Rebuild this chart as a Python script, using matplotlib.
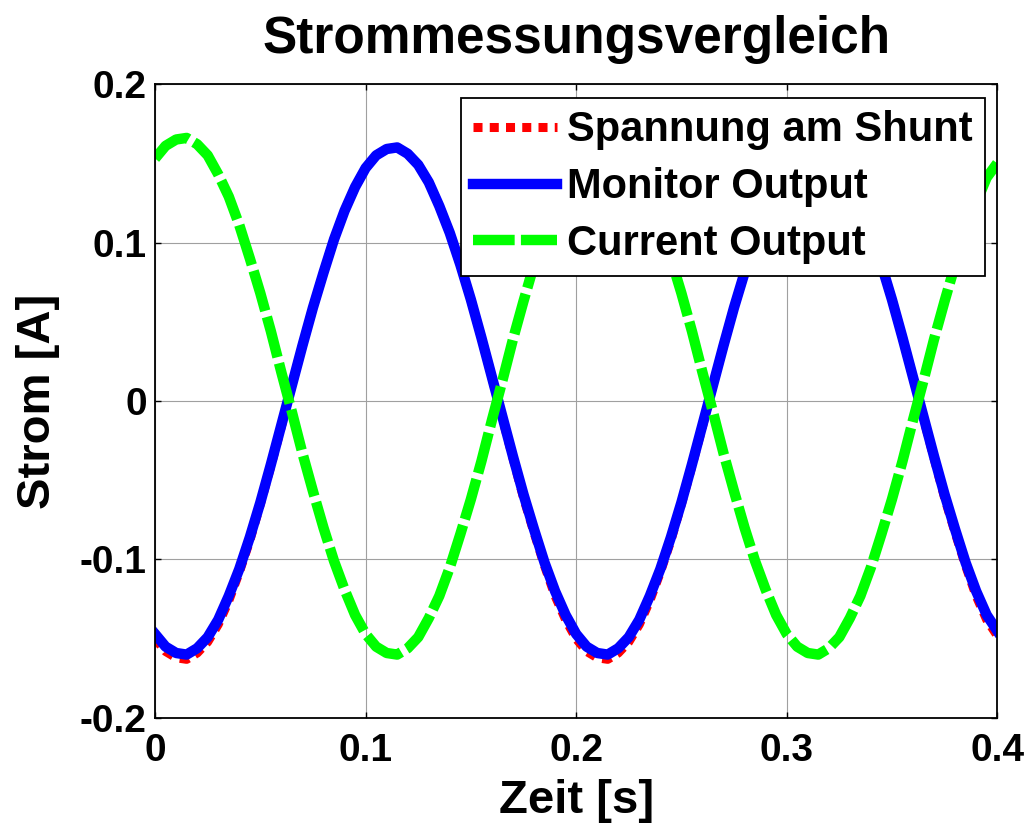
import numpy as np
import matplotlib.pyplot as plt

plt.rcParams['font.family'] = ['Liberation Sans', 'DejaVu Sans']
plt.rcParams['font.weight'] = 'bold'

# Messzeitpunkte (5 ms Raster, 0 ... 0.4 s)
zeit = np.linspace(0, 0.4, 81)

# Spannung am Shunt, umgerechnet in Strom [A]
shunt = [
    -0.150, -0.158, -0.162, -0.163, -0.159, -0.152, -0.141, -0.126, -0.108, -0.088,
    -0.065, -0.041, -0.016, 0.010, 0.035, 0.059, 0.081, 0.102, 0.120, 0.135,
    0.147, 0.155, 0.159, 0.160, 0.156, 0.149, 0.138, 0.123, 0.106, 0.086,
    0.064, 0.040, 0.015, -0.011, -0.036, -0.061, -0.083, -0.104, -0.123, -0.138,
    -0.150, -0.158, -0.162, -0.163, -0.159, -0.152, -0.141, -0.126, -0.108, -0.088,
    -0.065, -0.041, -0.016, 0.010, 0.035, 0.059, 0.081, 0.102, 0.120, 0.135,
    0.147, 0.155, 0.159, 0.160, 0.156, 0.149, 0.138, 0.123, 0.106, 0.086,
    0.064, 0.040, 0.015, -0.011, -0.036, -0.061, -0.083, -0.104, -0.123, -0.138,
    -0.148,
]

# Monitor-Ausgang
monitor = [
    -0.147, -0.155, -0.159, -0.160, -0.156, -0.149, -0.138, -0.123, -0.106, -0.086,
    -0.064, -0.040, -0.015, 0.010, 0.035, 0.059, 0.081, 0.102, 0.120, 0.135,
    0.147, 0.155, 0.159, 0.160, 0.156, 0.149, 0.138, 0.123, 0.106, 0.086,
    0.064, 0.040, 0.015, -0.010, -0.035, -0.059, -0.081, -0.102, -0.120, -0.135,
    -0.147, -0.155, -0.159, -0.160, -0.156, -0.149, -0.138, -0.123, -0.106, -0.086,
    -0.064, -0.040, -0.015, 0.010, 0.035, 0.059, 0.081, 0.102, 0.120, 0.135,
    0.147, 0.155, 0.159, 0.160, 0.156, 0.149, 0.138, 0.123, 0.106, 0.086,
    0.064, 0.040, 0.015, -0.010, -0.035, -0.059, -0.081, -0.102, -0.120, -0.135,
    -0.145,
]

# Current-Ausgang
current = [
    0.153, 0.161, 0.165, 0.166, 0.162, 0.155, 0.143, 0.129, 0.111, 0.090,
    0.068, 0.044, 0.018, -0.007, -0.033, -0.057, -0.080, -0.101, -0.119, -0.135,
    -0.147, -0.155, -0.159, -0.160, -0.156, -0.149, -0.137, -0.123, -0.105, -0.084,
    -0.062, -0.038, -0.012, 0.013, 0.039, 0.063, 0.086, 0.107, 0.125, 0.141,
    0.153, 0.161, 0.165, 0.166, 0.162, 0.155, 0.143, 0.129, 0.111, 0.090,
    0.068, 0.044, 0.018, -0.007, -0.033, -0.057, -0.080, -0.101, -0.119, -0.135,
    -0.147, -0.155, -0.159, -0.160, -0.156, -0.149, -0.137, -0.123, -0.105, -0.084,
    -0.062, -0.038, -0.012, 0.013, 0.039, 0.063, 0.086, 0.107, 0.125, 0.141,
    0.150,
]

fig = plt.figure(figsize=(10.27, 8.23), dpi=100)
ax = fig.add_axes([0.151, 0.1276, 0.820, 0.7703])

ax.plot(zeit, shunt, color='#ff0000', lw=6.5, linestyle=(0, (1.0, 0.8)),
        label='Spannung am Shunt')
ax.plot(zeit, monitor, color='#0000ff', lw=7.5, label='Monitor Output')
ax.plot(zeit, current, color='#00ff00', lw=7.5, linestyle=(0, (4.0, 0.6)),
        label='Current Output')

ax.set_xlim(0, 0.4)
ax.set_ylim(-0.2, 0.2)
ax.set_xticks([0, 0.1, 0.2, 0.3, 0.4])
ax.set_xticklabels(['0', '0.1', '0.2', '0.3', '0.4'])
ax.set_yticks([-0.2, -0.1, 0, 0.1, 0.2])
ax.set_yticklabels(['-0.2', '-0.1', '0', '0.1', '0.2'])

ax.grid(True, color='#a0a0a0', lw=0.8)
ax.tick_params(direction='in', length=4, width=1.0, top=True, right=True,
               labelsize=28)
ax.tick_params(axis='x', pad=11)
ax.tick_params(axis='y', pad=6)
for sp in ax.spines.values():
    sp.set_linewidth(1.3)

ax.set_title('Strommessungsvergleich', fontsize=37, fontweight='bold', pad=22)
ax.set_xlabel('Zeit [s]', fontsize=34, fontweight='bold', labelpad=7)
ax.set_ylabel('Strom [A]', fontsize=34, fontweight='bold', labelpad=14)

leg = ax.legend(loc='upper right', bbox_to_anchor=(0.9857, 0.978),
                borderaxespad=0, fontsize=30, handlelength=2.0,
                handletextpad=0.25, labelspacing=0.4, borderpad=0.3,
                fancybox=False, framealpha=1)
leg.get_frame().set_edgecolor('black')
leg.get_frame().set_linewidth(1.3)
for t in leg.get_texts():
    t.set_fontweight('bold')

fig.savefig('out.png', dpi=100)
